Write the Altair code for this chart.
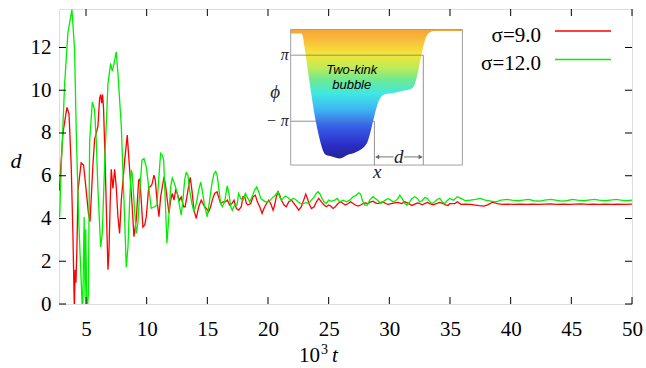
import altair as alt
import pandas as pd

# ---------------- data ----------------
X_DOMAIN = [2.775, 50.0]
Y_DOMAIN = [0.0, 13.8]

x_ticks = [5, 10, 15, 20, 25, 30, 35, 40, 45, 50]
y_ticks = [0, 2, 4, 6, 8, 10, 12]

legend_labels = ["σ=9.0", "σ=12.0"]
series_colors = ["#ff0000", "#00ee00"]

red_points = [
    (2.8, 5.3), (3.1, 8.0), (3.43, 9.2), (3.6, 8.9), (3.78, 6.5), (3.92, 3.3), (4.04, -0.3),
    (4.1, 1.6), (4.17, 1.0), (4.25, 2.6), (4.34, 5.3), (4.6, 6.6), (4.8, 6.5), (5.0, 5.4),
    (5.2, 4.25), (5.33, 3.85), (5.43, 4.95), (5.57, 6.5), (5.71, 7.7), (5.85, 8.0), (5.98, 8.3),
    (6.12, 9.6), (6.21, 9.8), (6.29, 9.4), (6.37, 9.8), (6.45, 9.1), (6.59, 6.4), (6.73, 3.3),
    (6.81, 1.6), (6.89, 2.4), (7.0, 4.87), (7.08, 6.3), (7.16, 5.8), (7.22, 5.4), (7.36, 6.3),
    (7.49, 5.5), (7.63, 4.1), (7.77, 3.3), (7.91, 4.86), (8.19, 6.73), (8.4, 7.9), (8.6, 6.26),
    (8.79, 4.7), (8.95, 3.15), (9.14, 3.93), (9.34, 5.8), (9.45, 5.85), (9.55, 4.86), (9.69, 3.6),
    (9.84, 3.7), (9.97, 4.08), (10.17, 5.48), (10.3, 5.48), (10.44, 5.6), (10.6, 6.03),
    (10.71, 5.8), (10.85, 4.86), (11.01, 4.08), (11.15, 5.0), (11.29, 5.48), (11.43, 5.95),
    (11.57, 5.48), (11.7, 4.86), (11.84, 4.25), (11.98, 4.86), (12.11, 5.17), (12.25, 4.86),
    (12.39, 5.33), (12.52, 5.17), (12.7, 4.85), (12.85, 5.0), (13.04, 4.55), (13.17, 4.55),
    (13.31, 5.0), (13.45, 5.48), (13.59, 5.92), (13.73, 5.33), (13.9, 4.39), (14.09, 4.0),
    (14.29, 4.55), (14.5, 4.86), (14.64, 4.7), (14.78, 4.55), (14.92, 4.47), (15.11, 4.31),
    (15.27, 4.55), (15.41, 4.86), (15.6, 5.17), (15.8, 5.25), (15.93, 5.0), (16.1, 4.7),
    (16.29, 4.78), (16.48, 4.78), (16.65, 4.86), (16.84, 4.63), (17.03, 4.7), (17.2, 4.86),
    (17.39, 4.47), (17.58, 4.39), (17.8, 4.55), (17.94, 5.02), (18.08, 5.02), (18.22, 4.7),
    (18.35, 4.63), (18.57, 4.7), (18.77, 5.02), (18.96, 5.09), (19.12, 4.78), (19.32, 4.55),
    (19.51, 4.24), (19.67, 4.47), (19.87, 4.7), (20.06, 4.86), (20.22, 4.7), (20.42, 4.39),
    (20.55, 4.63), (20.69, 5.02), (20.83, 5.25), (20.97, 5.09), (21.1, 4.86), (21.32, 4.63),
    (21.51, 4.55), (21.71, 4.78), (21.93, 4.86), (22.15, 4.7), (22.34, 4.55), (22.53, 4.39),
    (22.75, 4.55), (22.94, 4.86), (23.11, 5.14), (23.25, 4.94), (23.38, 4.7), (23.58, 4.47),
    (23.8, 4.55), (23.99, 4.78), (24.18, 4.94), (24.4, 4.78), (24.62, 4.63), (24.81, 4.55),
    (25.0, 4.63), (25.17, 4.58), (25.36, 4.47), (25.55, 4.55), (25.77, 4.7), (25.99, 4.78),
    (26.19, 4.7), (26.38, 4.63), (26.6, 4.7), (26.82, 4.78), (27.01, 4.7), (27.2, 4.63),
    (27.42, 4.58), (27.64, 4.63), (27.84, 4.7), (28.03, 4.73), (28.25, 4.7), (28.47, 4.78),
    (28.66, 4.81), (28.85, 4.73), (29.07, 4.7), (29.29, 4.75), (29.48, 4.78), (29.68, 4.7),
    (29.9, 4.66), (30.17, 4.7), (30.45, 4.73), (30.72, 4.75), (31.0, 4.7), (31.27, 4.78),
    (31.49, 4.73), (31.68, 4.67), (31.87, 4.61), (32.1, 4.67), (32.31, 4.73), (32.51, 4.7),
    (32.7, 4.64), (32.92, 4.7), (33.14, 4.75), (33.33, 4.7), (33.61, 4.64), (33.88, 4.7),
    (34.16, 4.75), (34.43, 4.7), (34.62, 4.64), (34.84, 4.61), (34.98, 4.7), (35.4, 4.7),
    (35.6, 4.78), (35.9, 4.66), (36.3, 4.67), (36.7, 4.66), (37.1, 4.63), (37.4, 4.6),
    (37.8, 4.58), (38.1, 4.64), (38.5, 4.76), (38.9, 4.7), (39.3, 4.66), (39.8, 4.67),
    (40.3, 4.66), (40.8, 4.67), (41.3, 4.66), (41.8, 4.67), (42.3, 4.66), (42.8, 4.67),
    (43.3, 4.68), (43.8, 4.66), (44.3, 4.67), (44.8, 4.66), (45.3, 4.67), (45.8, 4.68),
    (46.3, 4.66), (46.8, 4.67), (47.3, 4.66), (47.8, 4.67), (48.3, 4.66), (48.8, 4.67),
    (49.3, 4.66), (50.0, 4.67),
]

green_points = [
    (2.83, 4.07), (2.96, 6.4), (3.24, 10.3), (3.51, 12.7), (3.84, 13.77), (4.06, 11.9),
    (4.2, 8.0), (4.39, 4.07), (4.61, 1.0), (4.72, -0.5), (4.85, 4.07), (4.92, 0.3), (4.98, 3.5),
    (5.08, -0.5), (5.2, 0.5), (5.3, 7.6), (5.52, 9.45), (5.71, 9.07), (5.85, 7.6), (5.98, 5.4),
    (6.21, 2.67), (6.34, 3.3), (6.54, 6.6), (6.81, 10.3), (7.03, 11.26), (7.16, 10.9), (7.3, 11.2),
    (7.49, 11.8), (7.63, 10.8), (7.91, 8.3), (8.13, 4.86), (8.32, 1.72), (8.46, 2.68), (8.6, 4.86),
    (8.73, 6.26), (8.81, 6.1), (8.95, 4.86), (9.14, 3.3), (9.28, 3.8), (9.42, 5.2), (9.61, 6.73),
    (9.78, 6.8), (9.97, 6.4), (10.17, 5.48), (10.38, 4.48), (10.66, 4.55), (10.85, 4.63),
    (10.99, 5.8), (11.15, 7.05), (11.29, 6.96), (11.4, 6.73), (11.53, 4.86), (11.67, 2.84),
    (11.81, 3.93), (11.98, 5.48), (12.11, 5.9), (12.31, 5.6), (12.52, 5.2), (12.72, 4.55),
    (12.85, 4.16), (12.99, 4.86), (13.13, 5.8), (13.26, 6.15), (13.4, 6.03), (13.54, 5.33),
    (13.73, 4.7), (13.9, 4.3), (14.09, 4.7), (14.29, 5.33), (14.45, 5.7), (14.58, 5.33),
    (14.78, 4.55), (15.0, 4.08), (15.19, 4.86), (15.38, 5.64), (15.55, 6.1), (15.69, 6.2),
    (15.82, 6.0), (15.96, 5.33), (16.1, 4.7), (16.23, 4.55), (16.43, 4.78), (16.64, 5.53),
    (16.78, 5.17), (16.93, 4.55), (17.06, 4.39), (17.25, 4.63), (17.44, 4.63), (17.58, 5.17),
    (17.75, 4.94), (17.94, 4.86), (18.13, 5.17), (18.29, 5.0), (18.49, 4.78), (18.68, 5.0),
    (18.9, 5.33), (19.07, 5.48), (19.23, 5.25), (19.4, 4.94), (19.59, 4.86), (19.78, 4.78),
    (20.0, 4.78), (20.19, 4.86), (20.41, 5.0), (20.6, 5.09), (20.82, 5.25), (20.96, 5.0),
    (21.1, 4.86), (21.24, 4.94), (21.43, 5.05), (21.65, 4.98), (21.87, 4.86), (22.06, 4.94),
    (22.25, 4.9), (22.47, 4.78), (22.7, 4.7), (22.89, 4.7), (23.16, 4.74), (23.36, 4.7),
    (23.57, 4.86), (23.79, 5.0), (23.98, 5.17), (24.12, 5.25), (24.26, 5.17), (24.45, 4.94),
    (24.62, 4.78), (24.81, 4.7), (25.0, 4.86), (25.22, 4.8), (25.5, 4.86), (25.71, 4.94),
    (25.91, 4.78), (26.18, 4.86), (26.46, 4.78), (26.74, 4.86), (27.01, 5.02), (27.28, 5.09),
    (27.48, 5.2), (27.64, 5.14), (27.77, 4.86), (27.97, 4.63), (28.19, 4.63), (28.38, 4.86),
    (28.66, 5.02), (28.85, 4.94), (29.07, 4.83), (29.29, 4.7), (29.48, 4.78), (29.67, 4.86),
    (29.89, 4.94), (30.12, 4.86), (30.31, 4.78), (30.53, 4.83), (30.72, 4.94), (30.86, 5.09),
    (31.05, 4.94), (31.27, 4.7), (31.46, 4.63), (31.68, 4.78), (31.87, 4.94), (32.1, 5.02),
    (32.31, 4.94), (32.51, 4.78), (32.7, 4.83), (32.92, 4.98), (33.13, 4.94), (33.33, 4.78),
    (33.55, 4.7), (33.74, 4.78), (33.96, 4.9), (34.16, 4.94), (34.35, 4.78), (34.57, 4.7),
    (34.76, 4.83), (34.98, 4.94), (35.3, 4.86), (35.6, 5.02), (35.9, 4.94), (36.3, 4.83),
    (36.7, 4.86), (37.1, 4.89), (37.5, 4.94), (37.9, 4.86), (38.4, 4.81), (38.8, 4.78),
    (39.2, 4.86), (39.7, 4.89), (40.1, 4.86), (40.6, 4.83), (41.0, 4.86), (41.5, 4.89),
    (41.9, 4.83), (42.4, 4.81), (42.8, 4.86), (43.3, 4.89), (43.7, 4.86), (44.2, 4.81),
    (44.6, 4.83), (45.1, 4.89), (45.5, 4.86), (46.0, 4.83), (46.4, 4.86), (46.9, 4.89),
    (47.3, 4.86), (47.8, 4.83), (48.2, 4.86), (48.7, 4.89), (49.1, 4.86), (49.6, 4.83),
    (50.0, 4.86),
]

# inset (drawn in the main chart's coordinates)
inset_box = {"x0": 21.87, "x1": 36.02, "y0": 6.5, "y1": 12.84}
inset_x = [21.87, 22.78, 23.05, 23.32, 23.6, 23.87, 24.15, 24.43, 24.7, 25.11, 25.94, 26.49,
           27.31, 28.14, 28.41, 28.68, 28.96, 29.23, 29.64, 30.33, 31.15, 31.85, 32.12, 32.39,
           32.67, 32.94, 33.22, 33.63, 36.02]
inset_phi = [12.65, 12.65, 11.87, 10.78, 9.69, 8.75, 7.98, 7.35, 7.01, 6.92, 6.81, 6.96,
             7.12, 7.51, 7.98, 8.6, 9.22, 9.61, 9.81, 9.87, 9.97, 10.08, 10.31, 10.93,
             11.71, 12.34, 12.65, 12.77, 12.77]
inset_guides = [  # x, x2, y, y2
    (21.87, 32.8, 11.64, 11.64),
    (21.87, 28.77, 8.55, 8.55),
    (28.77, 28.77, 6.5, 8.55),
    (32.8, 32.8, 6.5, 11.64),
]
arrow_segments = [(28.95, 30.35, 6.88, 6.88), (31.2, 32.6, 6.88, 6.88)]
arrow_heads = [(29.0, 6.88, "triangle-left"), (32.58, 6.88, "triangle-right")]

# ---------------- chart ----------------
SERIF = "'Liberation Serif', 'Times New Roman', Times, serif"
SANS = "'Liberation Sans', Arial, Helvetica, sans-serif"
W, H = 573, 295

x_scale = alt.Scale(domain=X_DOMAIN, nice=False, zero=False)
y_scale = alt.Scale(domain=Y_DOMAIN, nice=False, zero=False)
x_axis = alt.Axis(values=x_ticks, title=None, ticks=False, domain=False, grid=False,
                  labelFont=SERIF, labelFontSize=21, labelPadding=14, labelFlush=False,
                  labelColor="black")
y_axis = alt.Axis(values=y_ticks, title=None, ticks=False, domain=False, grid=False,
                  labelFont=SERIF, labelFontSize=21, labelPadding=8, labelFlush=False,
                  labelColor="black")


def X(field):
    return alt.X(field, type="quantitative", scale=x_scale, axis=x_axis)


def Y(field):
    return alt.Y(field, type="quantitative", scale=y_scale, axis=y_axis)


df_red = pd.DataFrame(red_points, columns=["t", "d"])
df_green = pd.DataFrame(green_points, columns=["t", "d"])

red_line = alt.Chart(df_red).mark_line(color=series_colors[0], strokeWidth=1.3, clip=True).encode(
    x=X("t"), y=Y("d"))
green_line = alt.Chart(df_green).mark_line(color=series_colors[1], strokeWidth=1.3, clip=True).encode(
    x=X("t"), y=Y("d"))

# inward ticks on all four sides
xt = pd.DataFrame({"v": x_ticks})
yt = pd.DataFrame({"v": y_ticks})
tick_bottom = alt.Chart(xt).mark_rule(color="black").encode(x=X("v"), y=alt.value(H), y2=alt.value(H - 7))
tick_top = alt.Chart(xt).mark_rule(color="black").encode(x=X("v"), y=alt.value(0), y2=alt.value(7))
tick_left = alt.Chart(yt).mark_rule(color="black").encode(y=Y("v"), x=alt.value(0), x2=alt.value(7))
tick_right = alt.Chart(yt).mark_rule(color="black").encode(y=Y("v"), x=alt.value(W), x2=alt.value(W - 7))

# inset
box_df = pd.DataFrame([inset_box])
inset_bg = alt.Chart(box_df).mark_rect(fill="white").encode(
    x=X("x0"), x2="x1", y=Y("y0"), y2="y1")
inset_border = alt.Chart(box_df).mark_rect(filled=False, stroke="#a0a0a0", strokeWidth=1).encode(
    x=X("x0"), x2="x1", y=Y("y0"), y2="y1")

grad = alt.Gradient(
    gradient="linear", x1=0, x2=0, y1=0, y2=1,
    stops=[
        alt.GradientStop(offset=0.0, color="#f59a1c"),
        alt.GradientStop(offset=0.08, color="#f8b426"),
        alt.GradientStop(offset=0.19, color="#f2e322"),
        alt.GradientStop(offset=0.29, color="#bce842"),
        alt.GradientStop(offset=0.39, color="#5ee886"),
        alt.GradientStop(offset=0.50, color="#2ae4e2"),
        alt.GradientStop(offset=0.62, color="#28aef2"),
        alt.GradientStop(offset=0.75, color="#2050e6"),
        alt.GradientStop(offset=0.90, color="#1414c0"),
        alt.GradientStop(offset=1.0, color="#0c0c86"),
    ],
)
inset_df = pd.DataFrame({"x": inset_x, "phi": inset_phi})
bubble = alt.Chart(inset_df).mark_area(color=grad, interpolate="monotone", opacity=0.9).encode(
    x=X("x"), y=Y("phi"), y2=alt.datum(inset_box["y1"]))

guides_df = pd.DataFrame(inset_guides, columns=["x", "x2", "y", "y2"])
guides = alt.Chart(guides_df).mark_rule(color="#777777", strokeWidth=0.8).encode(
    x=X("x"), x2="x2", y=Y("y"), y2="y2")
arrows_df = pd.DataFrame(arrow_segments, columns=["x", "x2", "y", "y2"])
arrows = alt.Chart(arrows_df).mark_rule(color="#666666", strokeWidth=0.9).encode(
    x=X("x"), x2="x2", y=Y("y"), y2="y2")
heads_df = pd.DataFrame(arrow_heads, columns=["x", "y", "shape"])
heads = alt.Chart(heads_df).mark_point(filled=True, size=22, color="#666666", opacity=1).encode(
    x=X("x"), y=Y("y"), shape=alt.Shape("shape:N", scale=None, legend=None))

serif_labels = pd.DataFrame({"text": ["π", "− π"], "x": [21.72, 21.72], "y": [11.64, 8.55]})
pi_text = alt.Chart(serif_labels).mark_text(align="right", baseline="middle", font=SERIF,
                                             fontStyle="italic", fontSize=16, color="#222").encode(
    x=X("x"), y=Y("y"), text="text:N")
math_labels = pd.DataFrame({"text": ["ϕ", "x", "d"], "x": [20.6, 29.0, 30.78], "y": [9.9, 6.18, 6.88]})
math_text = alt.Chart(math_labels).mark_text(align="center", baseline="middle", font=SERIF,
                                              fontStyle="italic", fontSize=19, color="#222").encode(
    x=X("x"), y=Y("y"), text="text:N")
bubble_labels = pd.DataFrame({"text": ["Two-kink", "bubble"], "x": [26.9, 26.9], "y": [10.93, 10.23]})
bubble_text = alt.Chart(bubble_labels).mark_text(align="center", baseline="middle",
                                                 font=SANS, fontStyle="italic",
                                                 fontSize=13, color="black").encode(
    x=X("x"), y=Y("y"), text="text:N")

# legend (label left, line sample right, as in the original)
def legend_entry(i, text_y, line_y):
    lab = alt.Chart(pd.DataFrame({"label": [legend_labels[i]]})).mark_text(
        align="right", baseline="alphabetic", font=SERIF, fontSize=21, color="black").encode(
        text="label:N", x=alt.value(482), y=alt.value(text_y))
    ln = alt.Chart(pd.DataFrame({"label": [legend_labels[i]]})).mark_rule(
        color=series_colors[i], strokeWidth=1.3).encode(
        x=alt.value(496), x2=alt.value(552), y=alt.value(line_y))
    return lab + ln

legend = legend_entry(0, 32.5, 22) + legend_entry(1, 61, 50.5)

# axis titles
ytitle = alt.Chart(pd.DataFrame({"t": ["d"]})).mark_text(
    font=SERIF, fontStyle="italic", fontSize=22, align="center", baseline="middle").encode(
    text="t:N", x=alt.value(-43), y=alt.value(152))
xt10 = alt.Chart(pd.DataFrame({"t": ["10"]})).mark_text(
    font=SERIF, fontSize=21, align="right", baseline="alphabetic").encode(
    text="t:N", x=alt.value(261), y=alt.value(353))
xt3 = alt.Chart(pd.DataFrame({"t": ["3"]})).mark_text(
    font=SERIF, fontSize=14, align="left", baseline="alphabetic").encode(
    text="t:N", x=alt.value(262), y=alt.value(345))
xtt = alt.Chart(pd.DataFrame({"t": ["t"]})).mark_text(
    font=SERIF, fontStyle="italic", fontSize=21, align="left", baseline="alphabetic").encode(
    text="t:N", x=alt.value(273), y=alt.value(353))

chart = alt.layer(
    inset_bg, bubble, guides, arrows, heads, inset_border, pi_text, math_text, bubble_text,
    red_line, green_line,
    tick_bottom, tick_top, tick_left, tick_right,
    legend, ytitle, xt10, xt3, xtt,
).properties(
    width=W, height=H,
    autosize=alt.AutoSizeParams(type="none"),
    padding={"left": 59, "top": 9, "right": 14, "bottom": 64},
).configure_view(stroke="black", strokeWidth=1.2).configure(background="white")

chart.save("out.html", embed_options={"renderer": "svg", "actions": False})
